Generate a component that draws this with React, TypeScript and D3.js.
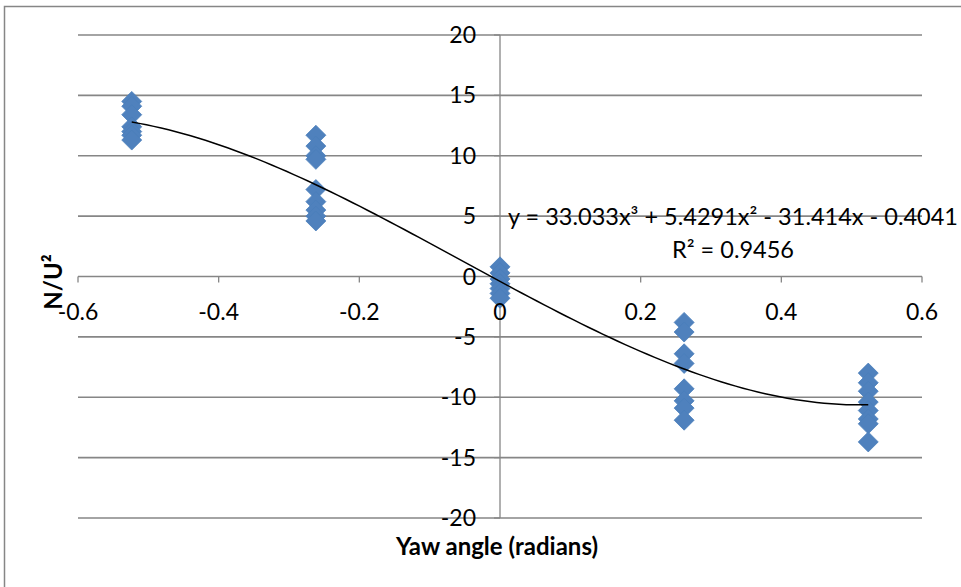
import React from 'react';
import * as d3 from 'd3';

// yaw angles (radians) and the measured N/U² values at each
const yawAngles = [-0.5236, -0.2618, 0, 0.2618, 0.5236];
const valuesAtM30 = [14.5, 14.1, 13.4, 12.4, 12.0, 11.7, 11.3];
const valuesAtM15 = [11.7, 10.8, 10.0, 9.7, 7.2, 6.2, 5.5, 5.0, 4.6];
const valuesAt0 = [0.8, 0.3, -0.2, -0.6, -1.0, -1.4, -1.8];
const valuesAtP15 = [-3.8, -4.6, -6.4, -7.2, -9.3, -10.3, -10.9, -11.9];
const valuesAtP30 = [-8.0, -8.8, -9.5, -10.4, -11.1, -11.8, -12.2, -13.7];
const groups = [valuesAtM30, valuesAtM15, valuesAt0, valuesAtP15, valuesAtP30];

// polynomial trendline coefficients (order 3), highest power first
const trendCoeffs = [33.033, 5.4291, -31.414, -0.4041];
const rSquared = '0.9456';

const xTicks = [-0.6, -0.4, -0.2, 0, 0.2, 0.4, 0.6];
const yTicks = [-20, -15, -10, -5, 0, 5, 10, 15, 20];

const W = 961;
const H = 587;
const FONT = 'Lato, "Open Sans", sans-serif';

const App: React.FC = () => {
  const x = d3.scaleLinear().domain([-0.6, 0.6]).range([78, 922]);
  const y = d3.scaleLinear().domain([-20, 20]).range([518, 35]);

  const points = groups.flatMap((vals, i) =>
    vals.map((v) => ({ x: yawAngles[i], y: v })),
  );

  const poly = (t: number) =>
    trendCoeffs.reduce((acc, c) => acc * t + c, 0);
  const xs = d3.range(0, 101).map(
    (i) => yawAngles[0] + (i / 100) * (yawAngles[4] - yawAngles[0]),
  );
  const line = d3
    .line<number>()
    .x((d) => x(d))
    .y((d) => y(poly(d)));

  const diamond = d3.symbol().type(d3.symbolSquare).size(200)();

  return (
    <svg
      width={W}
      height={H}
      style={{ position: 'absolute', left: 0, top: 0, background: '#fff' }}
    >
      {/* chart border */}
      <rect x={4.5} y={6.5} width={W + 10} height={H + 10} fill="none" stroke="#868686" strokeWidth={1.5} />

      {/* horizontal gridlines */}
      {yTicks.map((t) => (
        <line key={t} x1={x(-0.6)} x2={x(0.6)} y1={y(t)} y2={y(t)} stroke="#868686" strokeWidth={1.6} />
      ))}

      {/* vertical axis at x = 0 */}
      <line x1={x(0)} x2={x(0)} y1={y(20)} y2={y(-20)} stroke="#868686" strokeWidth={1.3} />
      {yTicks.map((t) => (
        <line key={'yt' + t} x1={x(0) - 6} x2={x(0)} y1={y(t)} y2={y(t)} stroke="#868686" strokeWidth={1.3} />
      ))}
      {xTicks.map((t) => (
        <line key={'xt' + t} x1={x(t)} x2={x(t)} y1={y(0)} y2={y(0) + 6} stroke="#868686" strokeWidth={1.3} />
      ))}

      {/* markers */}
      {points.map((p, i) => (
        <path
          key={i}
          d={diamond || ''}
          transform={`translate(${x(p.x)},${y(p.y)}) rotate(45)`}
          fill="#4F81BD"
          stroke="#4A7EBB"
          strokeWidth={0.75}
        />
      ))}

      {/* trendline */}
      <path d={line(xs) || ''} fill="none" stroke="#000" strokeWidth={1.5} />

      {/* y tick labels */}
      {yTicks.map((t) => (
        <text key={'yl' + t} x={x(0) - 24} y={y(t)} dy="0.35em" textAnchor="end" fontFamily={FONT} fontSize={23} fill="#000">
          {t}
        </text>
      ))}

      {/* x tick labels */}
      {xTicks.map((t) => (
        <text key={'xl' + t} x={x(t)} y={y(0) + 43} textAnchor="middle" fontFamily={FONT} fontSize={23} fill="#000">
          {t === 0 ? '0' : t.toFixed(1)}
        </text>
      ))}

      {/* trendline equation */}
      <text x={733} y={225} textAnchor="middle" fontFamily={FONT} fontSize={23.5} fill="#000">
        y = 33.033x³ + 5.4291x² - 31.414x - 0.4041
      </text>
      <text x={733} y={258} textAnchor="middle" fontFamily={FONT} fontSize={23.5} fill="#000">
        R² = {rSquared}
      </text>

      {/* axis titles */}
      <text x={497} y={555} textAnchor="middle" fontFamily={FONT} fontSize={24} fontWeight="bold" fill="#000">
        Yaw angle (radians)
      </text>
      <text
        transform="translate(62,282) rotate(-90)"
        textAnchor="middle"
        fontFamily={FONT}
        fontSize={24}
        fontWeight="bold"
        fill="#000"
      >
        N/U²
      </text>
    </svg>
  );
};

export default App;
